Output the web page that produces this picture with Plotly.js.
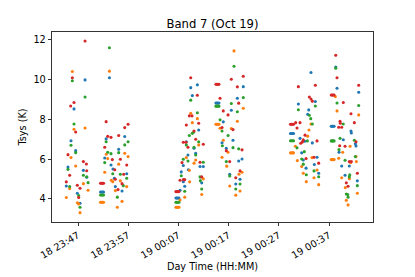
<!DOCTYPE html>
<html>
<head>
<meta charset="utf-8">
<script src="https://cdn.plot.ly/plotly-3.0.1.min.js"></script>
<style>html,body{margin:0;padding:0;background:#fff;}#chart{width:415px;height:277px;}</style>
</head>
<body>
<div id="chart"></div>
<script>
// Times (HH:MM:SS, 23:xx on Oct 18, 00:xx on Oct 19) and Tsys (K) per spectral window
const blueTimes = [
 "23:48:24","23:46:12","23:45:36","23:46:32","23:45:00","23:48:04","23:48:44","23:44:40","23:46:52","23:47:24",
 "23:53:15","23:52:36","23:56:18","23:55:06","23:52:19","23:53:34","23:53:58","23:56:42","23:54:14","23:54:26","23:55:46","23:51:29","23:51:41","23:51:53","23:52:05",
 "00:10:46","00:09:27","00:09:46","00:11:02","00:08:34","00:10:06","00:10:26","00:08:54","00:07:58","00:11:18","00:11:57","00:08:58","00:07:34","00:07:58","00:08:15","00:11:38","00:07:19","00:06:30","00:06:42","00:06:54","00:07:06",
 "00:19:55","00:18:44","00:14:28","00:14:40","00:14:52","00:15:04","00:17:32","00:15:56","00:15:41","00:17:52","00:16:32","00:19:00","00:19:40","00:17:13","00:19:16","00:18:25",
 "00:33:24","00:34:16","00:30:53","00:32:57","00:32:45","00:29:19","00:29:31","00:29:43","00:29:55","00:31:13","00:32:09","00:33:40","00:31:33","00:31:52","00:34:36","00:34:04","00:32:25","00:34:56",
 "00:38:20","00:38:35","00:42:54","00:37:26","00:37:37","00:37:48","00:38:00","00:41:22","00:41:26","00:39:50","00:42:14","00:42:22","00:38:59","00:39:31","00:41:02","00:40:11","00:42:38"
];
const blueTsys = [
 9.99,8.53,6.93,6.43,5.61,5.44,5.09,4.65,4.29,3.78,
 10.10,7.02,7.14,6.50,6.06,5.71,5.51,5.27,5.04,4.62,4.40,4.35,4.35,4.35,4.35,
 9.74,9.60,9.20,7.47,6.88,6.55,6.30,6.21,5.68,5.63,5.63,5.47,5.36,4.87,4.64,4.81,4.44,4.05,4.05,4.05,4.05,
 9.65,9.07,8.83,8.83,8.83,8.83,8.46,7.88,6.83,6.95,6.55,5.91,6.01,5.24,4.99,4.75,
 10.36,8.90,8.78,8.48,8.26,7.29,7.29,7.29,7.29,7.05,6.90,6.82,6.32,5.96,6.10,5.73,5.55,5.29,
 10.64,9.57,9.37,7.66,7.66,7.66,7.66,7.42,7.32,6.98,6.78,6.67,6.35,5.66,5.66,5.19,4.91
];
const orangeTimes = [
 "23:45:52","23:46:12","23:48:24","23:45:36","23:46:32","23:45:20","23:48:04","23:49:00","23:44:40","23:46:52","23:47:08","23:47:24",
 "23:53:15","23:52:38","23:56:18","23:56:58","23:52:55","23:55:06","23:52:19","23:53:38","23:53:55","23:55:26","23:56:42","23:54:26","23:55:46","23:54:50","23:51:29","23:51:41","23:51:53","23:52:05",
 "00:09:27","00:10:46","00:09:46","00:11:02","00:08:34","00:10:26","00:10:06","00:09:10","00:09:14","00:11:57","00:11:38","00:08:15","00:07:19","00:06:30","00:06:42","00:06:54","00:07:06",
 "00:18:04","00:19:55","00:18:44","00:14:28","00:14:40","00:14:52","00:15:04","00:15:17","00:17:32","00:15:56","00:16:53","00:15:41","00:16:37","00:19:40","00:19:04","00:17:13","00:19:16","00:18:25",
 "00:33:24","00:33:00","00:32:45","00:30:17","00:29:19","00:29:31","00:29:43","00:29:55","00:30:41","00:33:36","00:31:33","00:34:36","00:31:52","00:34:00","00:32:28","00:34:56",
 "00:38:15","00:38:35","00:42:54","00:37:26","00:37:37","00:37:48","00:38:00","00:38:55","00:41:11","00:39:43","00:41:18","00:42:22","00:42:26","00:39:31","00:41:02","00:40:14","00:42:38","00:40:26","00:40:47"
];
const orangeTsys = [
 10.41,7.51,7.57,6.08,5.66,4.52,4.77,4.44,4.07,3.81,3.75,3.31,
 10.43,6.25,6.30,6.13,6.03,5.75,5.34,4.94,4.87,4.91,4.62,4.42,3.88,3.58,3.83,3.83,3.83,3.83,
 8.31,8.04,7.84,6.72,6.08,5.96,5.80,5.44,4.86,5.01,4.22,4.09,3.95,3.58,3.58,3.58,3.58,
 11.45,8.56,7.91,7.76,7.76,7.76,7.76,7.56,7.54,6.95,6.35,6.10,5.65,5.34,5.24,4.65,4.40,4.19,
 7.77,7.47,7.16,6.65,6.32,6.32,6.32,6.32,5.93,6.08,5.63,5.46,5.29,5.07,4.87,4.72,
 9.15,8.43,8.23,5.98,5.98,5.98,5.98,6.05,6.65,6.35,5.83,6.13,5.88,5.07,5.02,4.57,4.29,3.93,3.70
];
const greenTimes = [
 "23:45:52","23:48:24","23:46:12","23:45:36","23:46:32","23:45:00","23:48:04","23:45:20","23:49:00","23:47:08","23:47:24","23:48:44",
 "23:53:15","23:52:36","23:56:58","23:56:18","23:52:55","23:53:34","23:55:06","23:52:19","23:53:55","23:55:26","23:56:42","23:56:01","23:54:50","23:51:29","23:51:41","23:51:53","23:52:05",
 "00:09:27","00:10:46","00:10:03","00:09:46","00:09:10","00:11:02","00:08:34","00:10:06","00:10:26","00:07:58","00:08:54","00:11:57","00:07:34","00:11:18","00:11:22","00:11:38","00:08:15","00:06:30","00:06:42","00:06:54","00:07:06",
 "00:18:04","00:19:55","00:14:28","00:14:40","00:14:52","00:15:04","00:17:32","00:18:44","00:15:17","00:15:41","00:16:53","00:15:45","00:17:52","00:19:00","00:16:32","00:17:13","00:19:16","00:18:25",
 "00:34:16","00:30:53","00:33:04","00:33:21","00:33:40","00:29:19","00:29:31","00:29:43","00:29:55","00:32:40","00:30:37","00:32:04","00:31:33","00:31:52","00:34:00","00:32:28","00:34:56",
 "00:38:20","00:38:35","00:42:54","00:39:50","00:37:26","00:37:37","00:37:48","00:38:00","00:39:11","00:42:02","00:38:59","00:40:11","00:42:14","00:41:07","00:41:02","00:42:38","00:40:26","00:40:43","00:40:47"
];
const greenTsys = [
 9.95,9.13,7.77,6.70,6.33,5.49,5.19,4.62,4.82,4.17,3.58,5.12,
 11.61,6.88,6.88,6.72,6.35,6.28,6.33,5.83,5.27,5.24,5.04,4.67,4.09,4.20,4.20,4.20,4.20,
 8.97,8.34,7.37,7.30,7.19,6.88,6.72,6.60,6.21,6.00,5.91,5.85,5.17,5.11,4.92,4.50,4.39,3.83,3.83,3.83,3.83,
 10.68,9.10,8.67,8.67,8.67,8.67,8.80,8.39,7.98,7.42,7.19,6.68,6.58,6.52,5.88,5.16,4.75,4.50,
 8.68,8.49,8.21,8.04,7.77,6.93,6.93,6.93,6.93,6.92,6.57,6.38,6.01,5.75,5.41,5.22,5.12,
 10.58,8.83,8.70,7.77,6.92,6.92,6.92,6.92,7.05,6.95,6.48,5.95,6.13,5.21,5.11,4.67,4.25,4.22,4.09
];
const redTimes = [
 "23:48:24","23:45:52","23:46:12","23:45:32","23:46:32","23:45:00","23:45:20","23:48:44","23:48:04","23:48:40","23:44:40","23:46:52","23:47:24","23:47:08",
 "23:52:36","23:56:58","23:56:18","23:52:55","23:53:34","23:55:06","23:52:19","23:55:26","23:53:50","23:56:42","23:54:19","23:56:06","23:54:26","23:55:46","23:54:58","23:51:29","23:51:41","23:51:53","23:52:05",
 "00:09:27","00:10:46","00:09:10","00:09:42","00:08:34","00:11:02","00:10:06","00:10:26","00:07:58","00:08:30","00:08:54","00:11:57","00:07:43","00:11:18","00:11:38","00:07:19","00:08:00","00:08:15","00:06:30","00:06:42","00:06:54","00:07:06",
 "00:19:55","00:17:32","00:14:28","00:14:40","00:14:52","00:15:04","00:18:44","00:15:17","00:19:00","00:15:56","00:16:53","00:15:41","00:17:52","00:16:32","00:19:40","00:17:13","00:19:16","00:18:25",
 "00:30:53","00:34:16","00:33:04","00:33:24","00:33:40","00:29:19","00:29:31","00:29:43","00:29:55","00:30:21","00:31:13","00:30:37","00:32:13","00:31:52","00:31:41","00:31:21","00:34:36","00:32:25","00:34:00","00:34:56",
 "00:38:20","00:38:35","00:42:54","00:37:26","00:37:37","00:37:48","00:38:00","00:39:50","00:41:22","00:39:11","00:39:15","00:38:55","00:39:31","00:42:02","00:42:22","00:39:07","00:40:11","00:41:02","00:41:26","00:42:38","00:40:26","00:40:47"
];
const redTsys = [
 11.95,10.10,8.85,8.68,7.37,6.23,5.19,5.42,5.88,5.76,4.86,4.69,4.54,4.07,
 7.89,7.76,7.59,7.15,7.10,7.19,6.60,6.00,5.98,5.71,5.47,5.24,4.99,4.77,4.47,4.79,4.79,4.79,4.79,
 10.10,9.22,8.18,8.18,7.72,7.81,7.42,7.00,6.85,6.85,6.60,6.75,5.83,5.85,5.11,4.94,4.97,4.97,4.37,4.37,4.37,4.37,
 10.17,10.02,9.77,9.77,9.77,9.77,9.64,9.07,8.82,8.43,8.23,7.59,7.49,6.43,6.47,5.88,5.41,5.07,
 9.65,9.72,9.13,9.03,8.92,7.76,7.76,7.76,7.76,7.84,7.84,7.57,7.21,6.97,6.87,6.80,6.92,6.03,6.10,5.80,
 11.23,10.10,9.72,9.23,9.23,9.23,9.23,8.85,8.29,7.91,7.81,7.61,7.61,7.84,6.88,6.68,6.65,5.88,5.88,5.29,4.81,4.64
];
const seriesNames = ["spw 0", "spw 1", "spw 2", "spw 3"];
const seriesColors = ["#1f77b4", "#ff7f0e", "#2ca02c", "#d62728"];
const xTickStart = "2019-10-18 23:47:00";
const xRange = ["2019-10-18 23:41:49", "2019-10-19 00:45:45"];
const yRange = [2.84, 12.40];

function toDate(t) {
  return (t.startsWith("23") ? "2019-10-18 " : "2019-10-19 ") + t;
}

const allTimes = [blueTimes, orangeTimes, greenTimes, redTimes];
const allTsys = [blueTsys, orangeTsys, greenTsys, redTsys];

const traces = allTimes.map((ts, i) => ({
  type: "scatter",
  mode: "markers",
  name: seriesNames[i],
  x: ts.map(toDate),
  y: allTsys[i],
  marker: { color: seriesColors[i], size: 3.1, line: { width: 0 } },
  showlegend: false,
  hoverinfo: "skip"
}));

const font = { family: "DejaVu Sans, sans-serif", size: 9.7, color: "#000" };

const layout = {
  width: 415,
  height: 277,
  margin: { l: 52, r: 42, t: 32, b: 55, pad: 0 },
  paper_bgcolor: "#fff",
  plot_bgcolor: "#fff",
  font: font,
  title: {
    text: "Band 7 (Oct 19)",
    font: { family: "DejaVu Sans, sans-serif", size: 11.6, color: "#000" },
    x: 0.5, xanchor: "center", xref: "paper",
    y: 1, yref: "paper", yanchor: "bottom", pad: { b: 4 }
  },
  xaxis: {
    type: "date",
    range: xRange,
    tick0: xTickStart,
    dtick: 600000,
    tickformat: "%d %H:%M",
    tickangle: -30,
    ticks: "outside",
    ticklen: 3.5,
    tickwidth: 0.8,
    tickcolor: "#000",
    showline: true,
    linecolor: "#000",
    linewidth: 0.8,
    mirror: true,
    showgrid: false,
    zeroline: false,
    tickfont: font,
    title: { text: "Day Time (HH:MM)", font: font, standoff: 3 }
  },
  yaxis: {
    range: yRange,
    tickvals: [4, 6, 8, 10, 12],
    ticks: "outside",
    ticklen: 3.5,
    tickwidth: 0.8,
    tickcolor: "#000",
    showline: true,
    linecolor: "#000",
    linewidth: 0.8,
    mirror: true,
    showgrid: false,
    zeroline: false,
    tickfont: font,
    title: { text: "Tsys (K)", font: font, standoff: 4 }
  }
};

Plotly.newPlot("chart", traces, layout, { displayModeBar: false, staticPlot: true });
</script>
</body>
</html>
